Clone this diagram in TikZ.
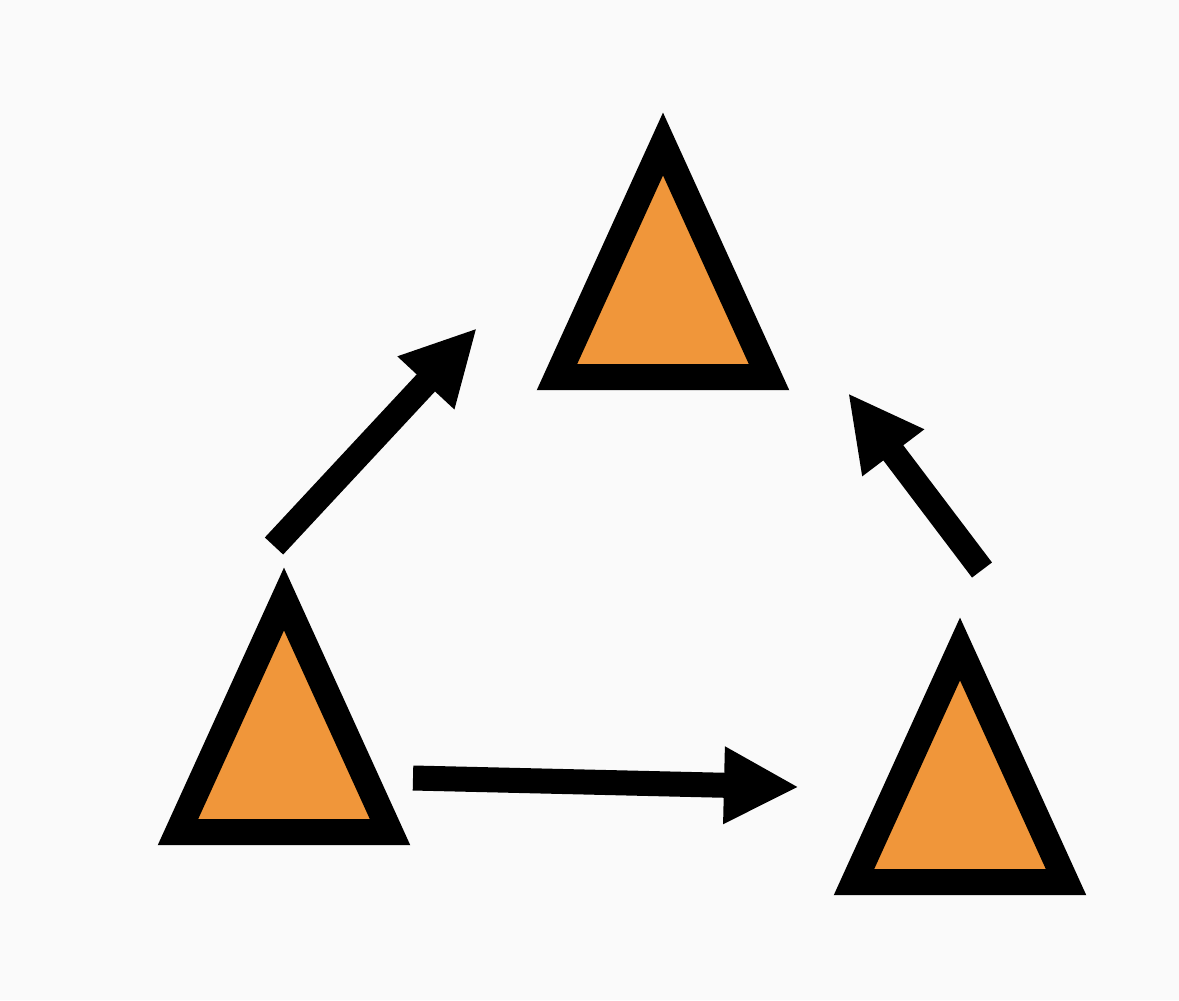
\documentclass[tikz,border=0pt]{standalone}
\usetikzlibrary{arrows.meta}
\definecolor{tri orange}{RGB}{240,150,58}
\definecolor{paper}{RGB}{250,250,250}
\begin{document}
\begin{tikzpicture}[x=0.01cm, y=-0.01cm]
        \tikzset{tri/.style={draw=black, fill=tri orange, line width=0.26cm, line join=miter, miter limit=10},
                 arr/.style={line width=0.25cm, line cap=butt, -{Triangle[length=0.75cm, width=0.72cm]}}}
        \fill[paper] (0,0) rectangle (1179,1000);
        \useasboundingbox (0,0) rectangle (1179,1000);
        % triangles, given by the outer apex
        \foreach \name/\ax/\ay in {top/663/113, left/284/568, right/960/618}{
            \coordinate (\name) at (\ax,\ay);
            \draw[tri] ([yshift=-0.31cm]\name) -- ([xshift=-1.06cm, yshift=-2.64cm]\name)
                -- ([xshift=1.06cm, yshift=-2.64cm]\name) -- cycle;
        }
        \coordinate (lt1) at (274,546);
        \coordinate (lt2) at (477,328);
        \coordinate (rt1) at (982,570);
        \coordinate (rt2) at (848,393);
        \coordinate (bt1) at (413,778);
        \coordinate (bt2) at (799,787);
        \draw[arr] (lt1) -- (lt2);
        \draw[arr] (rt1) -- (rt2);
        \draw[arr] (bt1) -- (bt2);
    \end{tikzpicture}
\end{document}
